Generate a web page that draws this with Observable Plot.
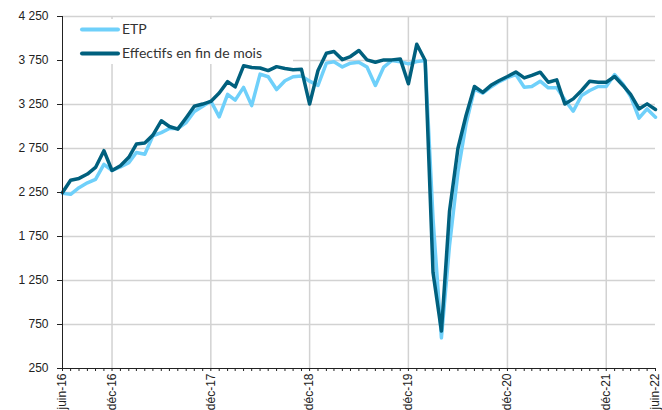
<!DOCTYPE html>
<html><head><meta charset="utf-8">
<script src="https://cdn.jsdelivr.net/npm/d3@7"></script>
<script src="https://cdn.jsdelivr.net/npm/@observablehq/plot@0.6"></script>
<style>
body{margin:0;background:#fff;}
#wrap{position:relative;width:662px;height:410px;}
#legend{position:absolute;left:63px;top:19px;}
</style></head><body><div id="wrap"></div>
<script>
const startMonth = "2016-06";
const endMonth = "2022-06";
const etp = [2240,2230,2305,2360,2400,2570,2500,2540,2590,2705,
2685,2895,2930,2977,2977,3045,3170,3230,3290,3110,
3365,3300,3445,3237,3595,3565,3420,3520,3565,3575,
3515,3466,3720,3735,3677,3720,3730,3675,3466,3675,
3750,3735,3712,3738,3750,1950,598,1650,2480,3030,
3425,3380,3450,3510,3555,3590,3447,3455,3515,3440,
3440,3303,3174,3352,3409,3455,3455,3590,3480,3341,
3095,3200,3106];
const effectifs = [2250,2390,2410,2460,2535,2725,2500,2555,2650,2800,
2812,2902,3065,3000,2970,3100,3230,3255,3285,3380,
3510,3450,3690,3670,3665,3635,3680,3660,3645,3650,
3255,3636,3833,3852,3760,3795,3864,3757,3730,3757,
3757,3768,3485,3935,3750,1340,675,2040,2750,3125,
3455,3388,3468,3523,3568,3620,3552,3580,3617,3503,
3530,3255,3314,3409,3515,3503,3503,3568,3466,3364,
3200,3257,3193];
const tickMonths = ["2016-06","2016-12","2017-12","2018-12","2019-12","2020-12","2021-12","2022-06"];
const tickLabels = ["juin-16","déc-16","déc-17","déc-18","déc-19","déc-20","déc-21","juin-22"];
const gridMonths = ["2016-12","2017-12","2018-12","2019-12","2020-12","2021-12"];
const yTicks = [250,750,1250,1750,2250,2750,3250,3750,4250];
const seriesNames = ["ETP","Effectifs en fin de mois"];
const colors = ["#6fd0fa","#00607e"];

const parse = d3.utcParse("%Y-%m");
const months = d3.utcMonth.range(parse(startMonth), d3.utcMonth.offset(parse(endMonth), 1));
const data = months.map((d, i) => ({date: d, etp: etp[i], eff: effectifs[i]}));
const tickDates = tickMonths.map(parse);
const labelMap = new Map(tickDates.map((d, i) => [+d, tickLabels[i]]));
const gridDates = gridMonths.map(parse);
const loc = d3.formatLocale({decimal: ",", thousands: "\u00a0", grouping: [3], currency: ["", "€"]});
const fmt = loc.format(",");

const chart = Plot.plot({
  width: 662, height: 410,
  marginLeft: 62, marginRight: 7, marginTop: 16, marginBottom: 42,
  style: {fontFamily: "'Liberation Sans Narrow','Arial Narrow','Liberation Sans',sans-serif", fontSize: "12px", color: "#222", background: "#fff"},
  x: {type: "utc", domain: [months[0], months[months.length - 1]]},
  y: {domain: [250, 4250]},
  marks: [
    Plot.ruleY(yTicks.slice(1), {stroke: "#d2d2d2", strokeWidth: 1.5}),
    Plot.ruleX(gridDates, {stroke: "#d2d2d2", strokeWidth: 1.5}),
    Plot.line(data, {x: "date", y: "etp", stroke: colors[0], strokeWidth: 3.5}),
    Plot.line(data, {x: "date", y: "eff", stroke: colors[1], strokeWidth: 3.5}),
    Plot.ruleX([months[0]], {stroke: "#222", strokeWidth: 1}),
    Plot.ruleY([250], {stroke: "#222", strokeWidth: 1}),
    Plot.axisY({ticks: yTicks, tickFormat: fmt, tickSize: 5, tickPadding: 9}),
    Plot.axisX({ticks: months, tickSize: 3, tickFormat: () => ""}),
    Plot.axisX({ticks: tickDates, tickFormat: d => labelMap.get(+d), tickRotate: -90, tickSize: 0, tickPadding: 5})
  ]
});
const wrap = document.getElementById("wrap");
wrap.appendChild(chart);

// legend overlay
const lg = d3.select(wrap).append("svg").attr("id", "legend").attr("width", 230).attr("height", 45);
lg.append("rect").attr("width", 230).attr("height", 45).attr("fill", "#fff");
seriesNames.forEach((name, i) => {
  const y = 10.5 + i * 24;
  lg.append("line").attr("x1", 19).attr("x2", 55).attr("y1", y).attr("y2", y)
    .attr("stroke", colors[i]).attr("stroke-width", 4).attr("stroke-linecap", "round");
  lg.append("text").attr("x", 59).attr("y", y).attr("dy", "0.35em")
    .attr("font-family", "Lato, sans-serif").attr("font-size", 14).attr("fill", "#333").text(name);
});
</script>
</body></html>
